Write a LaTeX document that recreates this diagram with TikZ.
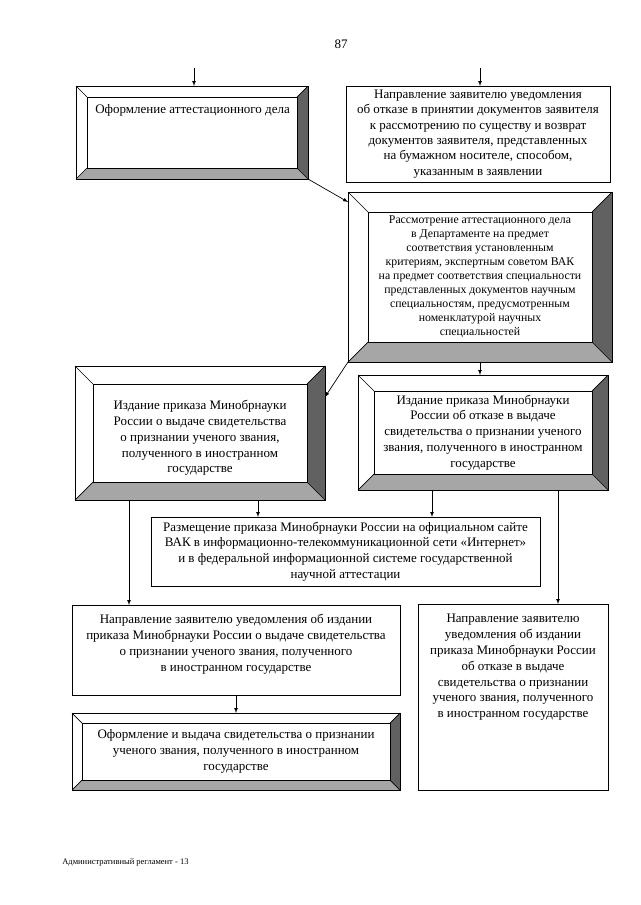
\documentclass[tikz,border=0pt]{standalone}
\usepackage{fontspec}
\setmainfont{Liberation Serif}
\usetikzlibrary{arrows}
\usetikzlibrary{positioning}

\begin{document}
\begin{tikzpicture}[x=1pt,y=-1pt,line width=0.7pt,
    frame/.style={draw,fill=white,inner sep=0pt,outer sep=0pt},
    txt/.style={align=center,inner sep=0pt,font=\fontsize{13}{15.8}\selectfont},
    smalltxt/.style={align=center,inner sep=0pt,font=\fontsize{11.8}{14}\selectfont},
    arr/.style={-latex}]
  \useasboundingbox (0,0) rectangle (640,905);
  \node[txt] (pnum) at (341,44) {87};
  % boxes
  \node[frame,minimum width=232,minimum height=93] (b1) at (192,132.5) {};
  \node[frame,txt,minimum width=264,minimum height=96,
        font=\fontsize{13}{15.3}\selectfont] (b2) at (478,134)
    {Направление заявителю уведомления\\
     об отказе в принятии документов заявителя\\
     к рассмотрению по существу и возврат\\
     документов заявителя, представленных\\
     на бумажном носителе, способом,\\
     указанным в заявлении};
  \node[frame,minimum width=264,minimum height=170] (b3) at (480,277) {};
  \node[frame,minimum width=250,minimum height=134] (b4) at (200,433) {};
  \node[frame,minimum width=250,minimum height=115] (b5) at (483,432.5) {};
  \node[frame,txt,minimum width=389,minimum height=69] (b7) at (345.5,551.5)
    {Размещение приказа Минобрнауки России на официальном сайте\\
     ВАК в информационно-телекоммуникационной сети «Интернет»\\
     и в федеральной информационной системе государственной\\
     научной аттестации};
  \node[frame,minimum width=328,minimum height=90] (b6) at (236,650) {};
  \node[frame,minimum width=190,minimum height=186] (b9) at (513,697) {};
  \node[frame,minimum width=328,minimum height=77] (b8) at (236,751.5) {};
  % bevels
  \foreach \n/\b in {b1/11,b3/20,b4/18,b5/16,b8/10} {
    \fill[black!62] (\n.north east) -- (\n.south east)
      -- ([shift={(-\b,-\b)}]\n.south east) -- ([shift={(-\b,\b)}]\n.north east) -- cycle;
    \fill[black!35] (\n.south west) -- (\n.south east)
      -- ([shift={(-\b,-\b)}]\n.south east) -- ([shift={(\b,-\b)}]\n.south west) -- cycle;
    \draw (\n.north west) rectangle (\n.south east);
    \draw ([shift={(\b,\b)}]\n.north west) rectangle ([shift={(-\b,-\b)}]\n.south east);
    \draw (\n.north west) -- ++(\b,\b);
    \draw (\n.north east) -- ++(-\b,\b);
    \draw (\n.south west) -- ++(\b,-\b);
    \draw (\n.south east) -- ++(-\b,-\b);
  }
  % texts
  \node[txt,anchor=north west] (b1t) at ([shift={(19,18)}]b1.north west)
    {Оформление аттестационного дела};
  \node[smalltxt] (b3t) at (b3)
    {Рассмотрение аттестационного дела\\
     в Департаменте на предмет\\
     соответствия установленным\\
     критериям, экспертным советом ВАК\\
     на предмет соответствия специальности\\
     представленных документов научным\\
     специальностям, предусмотренным\\
     номенклатурой научных\\
     специальностей};
  \node[txt] (b4t) at ([yshift=-5pt]b4)
    {Издание приказа Минобрнауки\\
     России о выдаче свидетельства\\
     о признании ученого звания,\\
     полученного в иностранном\\
     государстве};
  \node[txt] (b5t) at (b5)
    {Издание приказа Минобрнауки\\
     России об отказе в выдаче\\
     свидетельства о признании ученого\\
     звания, полученного в иностранном\\
     государстве};
  \node[txt,below=9pt of b6.north] (b6t)
    {Направление заявителю уведомления об издании\\
     приказа Минобрнауки России о выдаче свидетельства\\
     о признании ученого звания, полученного\\
     в иностранном государстве};
  \node[txt,below=10pt of b9.north] (b9t)
    {Направление заявителю\\
     уведомления об издании\\
     приказа Минобрнауки России\\
     об отказе в выдаче\\
     свидетельства о признании\\
     ученого звания, полученного\\
     в иностранном государстве};
  \node[txt] (b8t) at (b8)
    {Оформление и выдача свидетельства о признании\\
     ученого звания, полученного в иностранном\\
     государстве};
  \node[anchor=west,inner sep=0pt,font=\fontsize{8.5}{10}\selectfont] (foot) at (62,862)
    {Административный регламент - 13};
  % arrows
  \coordinate (in1) at (194,68);
  \coordinate (in2) at (480,68);
  \draw[arr] (in1) -- (in1 |- b1.north);
  \draw[arr] (in2) -- (in2 |- b2.north);
  \draw[arr] (b1.south east) -- ([yshift=-10pt]b3.north west);
  \draw[arr] (b3.south) -- (b3.south |- b5.north);
  \draw[arr] (b3.south west) -- ([yshift=-31pt]b4.north east);
  \draw[arr] ([xshift=54pt]b4.south west) -- ([xshift=54pt]b4.south west |- b6.north);
  \draw[arr] ([xshift=183pt]b4.south west) -- ([xshift=183pt]b4.south west |- b7.north);
  \draw[arr] ([xshift=74pt]b5.south west) -- ([xshift=74pt]b5.south west |- b7.north);
  \draw[arr] ([xshift=200pt]b5.south west) -- ([xshift=200pt]b5.south west |- b9.north);
  \draw[arr] (b6.south) -- (b8.north);
\end{tikzpicture}
\end{document}
